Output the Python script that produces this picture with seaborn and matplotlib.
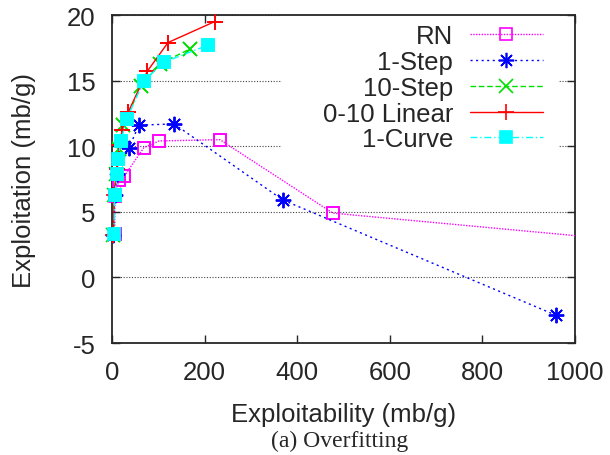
import matplotlib
matplotlib.use("Agg")
import matplotlib.pyplot as plt
import seaborn as sns
from matplotlib.patches import Rectangle

# values (x: exploitability, y: exploitation)
rn_x = [6, 6, 15, 26, 69, 102, 233, 477, 1300]
rn_y = [3.3, 6.2, 7.4, 7.7, 9.9, 10.4, 10.5, 4.9, 2.2]

step1_x = [3, 6, 11, 37, 58, 134, 369, 960]
step1_y = [3.2, 6.3, 7.9, 9.9, 11.6, 11.7, 5.9, -2.9]

step10_x = [3, 5, 8, 15, 24, 63, 104, 168]
step10_y = [3.2, 6.3, 7.9, 9.8, 11.6, 14.6, 16.3, 17.4]

linear_x = [3, 5, 10, 16, 22, 35, 76, 121, 222]
linear_y = [3.2, 6.3, 8.3, 10.1, 11.2, 12.6, 15.7, 17.9, 19.5]

curve_x = [4, 6, 11, 13, 19, 32, 69, 112, 207]
curve_y = [3.3, 6.3, 7.9, 9.0, 10.4, 12.1, 15.0, 16.4, 17.7]

series = [
    ("RN", rn_x, rn_y, "#ff00ff", (0, (1, 1)), "s", "none", 9),
    ("1-Step", step1_x, step1_y, "#0000ff", (0, (1.5, 2.5)), (8, 2, 0), "#0000ff", 11),
    ("10-Step", step10_x, step10_y, "#00e000", (0, (4, 2)), "x", "#00e000", 10),
    ("0-10 Linear", linear_x, linear_y, "#ff0000", "-", "+", "#ff0000", 12),
    ("1-Curve", curve_x, curve_y, "#00ffff", (0, (5, 2, 1, 2)), "s", "#00ffff", 9),
]

sns.set_style("ticks")
plt.rcParams["font.family"] = ["Liberation Sans", "DejaVu Sans"]
plt.rcParams["font.size"] = 18.5

fig = plt.figure(figsize=(6.1, 4.56), dpi=100)
ax = fig.add_axes([112 / 610, 1 - 344 / 456, 463 / 610, 328 / 456])

for name, xs, ys, col, ls, mk, mfc, ms in series:
    sns.lineplot(x=xs, y=ys, ax=ax, sort=False, estimator=None, label=name,
                 color=col, linestyle=ls, linewidth=1.0, marker=mk,
                 markersize=ms, markerfacecolor=mfc, markeredgecolor=col,
                 markeredgewidth=1.2, zorder=3)
    # markers again, unclipped, so points on the left spine show whole
    px = [x for x in xs if x <= 1000]
    py = [y for x, y in zip(xs, ys) if x <= 1000]
    sns.lineplot(x=px, y=py, ax=ax, sort=False, estimator=None,
                 linestyle="none", marker=mk, markersize=ms,
                 markerfacecolor=mfc, markeredgecolor=col,
                 markeredgewidth=1.2, clip_on=False, zorder=3)

ax.set_xlim(0, 1000)
ax.set_ylim(-5, 20)
ax.set_xticks([0, 200, 400, 600, 800, 1000])
ax.set_yticks([-5, 0, 5, 10, 15, 20])
ax.set_yticklabels(["-5", "0", "5", "10", "15", "20"])
ax.tick_params(direction="in", length=6, width=1, top=True, right=True,
               labelsize=18.5, pad=12)
ax.set_axisbelow(True)
ax.yaxis.grid(True, linestyle=(0, (1, 1.5)), color="#444444", linewidth=0.8)
for s in ax.spines.values():
    s.set_linewidth(1.3)

# blank area behind the key, like gnuplot does
ax.add_patch(Rectangle((0.367, 0.57), 0.596, 0.43, transform=ax.transAxes,
                       facecolor="white", edgecolor="none", zorder=1))

ax.set_xlabel("Exploitability (mb/g)", fontsize=18.5, labelpad=13)
ax.set_ylabel("Exploitation (mb/g)", fontsize=18.5, labelpad=22)

ax.legend(loc="upper right", bbox_to_anchor=(0.931, 0.972), frameon=False,
          markerfirst=False, handlelength=2.85, handletextpad=0.65,
          labelspacing=0.07, borderpad=0, borderaxespad=0, fontsize=18.5)

fig.text(0.556, 0.008, "(a) Overfitting", ha="center", va="bottom",
         family="Liberation Serif", fontsize=17)

fig.savefig("out.png", dpi=100)
